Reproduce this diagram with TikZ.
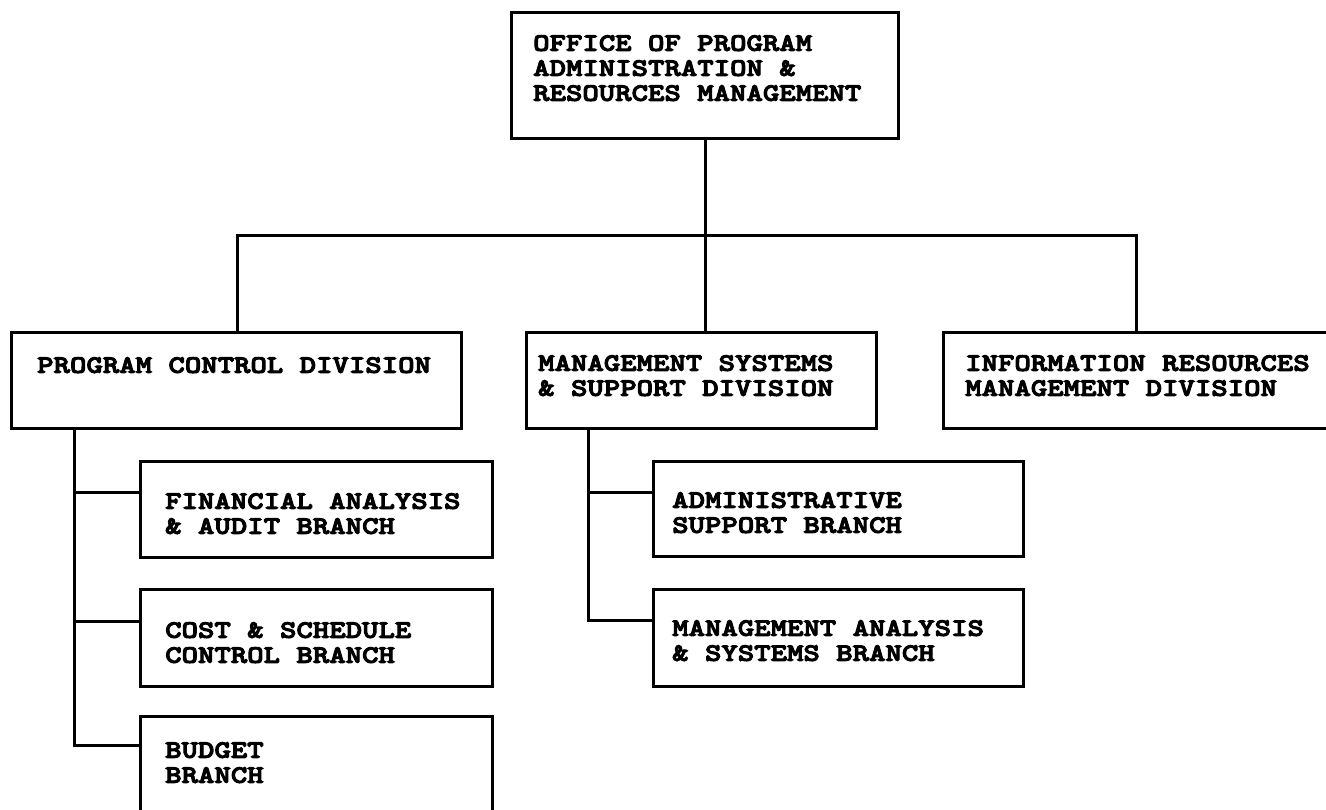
\documentclass[tikz,border=0pt]{standalone}
\usepackage{fontspec}
\newfontfamily\twfont{lmmonolt10-bold}[Extension=.otf, FakeStretch=1.25, FakeBold=4]
\usetikzlibrary{calc}
\tikzset{
  box/.style={draw=black, line width=3pt, rectangle, inner sep=0pt, anchor=north west},
  txt/.style={font=\twfont\fontsize{25}{25}\selectfont, align=left, inner sep=0pt, anchor=north west, text=black},
  conn/.style={draw=black, line width=3pt}
}
\begin{document}
\begin{tikzpicture}[x=1pt, y=-1pt]
\fill[white] (0,0) rectangle (1326,809);
\useasboundingbox (0,0) rectangle (1326,809);
% boxes
\node[box, minimum width=387pt, minimum height=126pt] (top) at (510,11) {};
\node[box, minimum width=450pt, minimum height=96pt] (pcd) at (10,331) {};
\node[box, minimum width=350pt, minimum height=96pt] (mss) at (525,331) {};
\node[box, minimum width=386pt, minimum height=96pt] (irm) at (942,331) {};
\node[box, minimum width=352pt, minimum height=96pt] (fa) at (139,460) {};
\node[box, minimum width=352pt, minimum height=97pt] (cs) at (139,588) {};
\node[box, minimum width=352pt, minimum height=120pt] (bud) at (139,715) {};
\node[box, minimum width=370pt, minimum height=95pt] (adm) at (652,460) {};
\node[box, minimum width=370pt, minimum height=97pt] (mas) at (652,588) {};
% texts
\node[txt] (ttop) at (533,35) {OFFICE OF PROGRAM\\ADMINISTRATION \&\\RESOURCES MANAGEMENT};
\node[txt] (tpcd) at (37,357) {PROGRAM CONTROL DIVISION};
\node[txt] (tmss) at (538,355) {MANAGEMENT SYSTEMS\\\& SUPPORT DIVISION};
\node[txt] (tirm) at (965,355) {INFORMATION RESOURCES\\MANAGEMENT DIVISION};
\node[txt] (tfa) at (165,493) {FINANCIAL ANALYSIS\\\& AUDIT BRANCH};
\node[txt] (tcs) at (165,622) {COST \& SCHEDULE\\CONTROL BRANCH};
\node[txt] (tbud) at (165,742) {BUDGET\\BRANCH};
\node[txt] (tadm) at (672,492) {ADMINISTRATIVE\\SUPPORT BRANCH};
\node[txt] (tmas) at (672,620) {MANAGEMENT ANALYSIS\\\& SYSTEMS BRANCH};
% connector points
\coordinate (bus) at (0,235);
\coordinate (pl) at (74,0);
\coordinate (ml) at (588,0);
\coordinate (fa1) at ([yshift=-32pt]fa.north west);
\coordinate (cs1) at ([yshift=-33pt]cs.north west);
\coordinate (bud1) at ([yshift=-30pt]bud.north west);
\coordinate (adm1) at ([yshift=-32pt]adm.north west);
\coordinate (mas1) at ([yshift=-32pt]mas.north west);
% connectors
\draw[conn] (top.south) -- (top.south |- mss.north);
\draw[conn] (pcd.north -| 237,0) -- (237,235) -- (irm.north |- bus) -- (irm.north);
\draw[conn] (pl |- pcd.south) |- (bud1);
\draw[conn] (pl |- fa1) -- (fa1);
\draw[conn] (pl |- cs1) -- (cs1);
\draw[conn] (ml |- mss.south) |- (mas1);
\draw[conn] (ml |- adm1) -- (adm1);
\end{tikzpicture}
\end{document}
